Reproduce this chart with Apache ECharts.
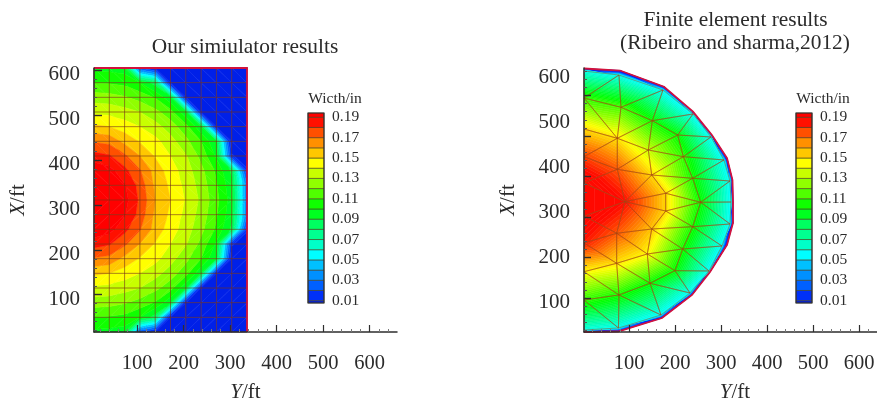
<!DOCTYPE html>
<html><head><meta charset="utf-8">
<style>html,body{margin:0;padding:0;background:#fff}#c{width:877px;height:403px;filter:blur(0.4px)}</style>
<script src="https://cdn.jsdelivr.net/npm/echarts@6/dist/echarts.min.js"></script>
</head><body><div id="c"></div>
<script>
// ---------- data ----------
const majorTicks = [100,200,300,400,500,600];
const minorTicks = [20,40,60,80,120,140,160,180,220,240,260,280,320,340,360,380,420,440,460,480,520,540,560,580,620,640,660];
const legendTicks = [0.01,0.03,0.05,0.07,0.09,0.11,0.13,0.15,0.17,0.19];
const legendLevels = [0.0077,0.01,0.02,0.03,0.04,0.05,0.06,0.07,0.08,0.09,0.10,0.11,0.12,0.13,0.14,0.15,0.16,0.17,0.18,0.19,0.1942];
const bandColors = ['#0020e8','#0030f8','#0060ff','#0090ff','#00c0ff','#00ffff','#00ffc8','#00ff90','#00ff60','#00ff20','#10ff00','#50ff00','#90ff00','#c8ff00','#ffff00','#ffc800','#ff9000','#ff5000','#ff1000','#ff0000'];
// simulator grid: node positions (ft) and crack width (in)
const simY = [7.5,40.4,73.3,106.2,139.1,172,204.9,237.8,270.7,303.6,336.5];
const simX = [604,571.4,538.8,506.2,473.6,441,408.4,375.8,343.2,310.6,278,245.4,212.8,180.2,147.6,115,82.4,49.8,17.2];
const simRow0  = [.098,.097,.095,.020,.005,0,0,0,0,0,0];
const simRow1  = [.110,.109,.107,.100,.085,.003,0,0,0,0,0];
const simRow2  = [.125,.124,.121,.116,.109,.092,.004,0,0,0,0];
const simRow3  = [.138,.137,.134,.130,.123,.114,.092,.004,0,0,0];
const simRow4  = [.152,.150,.145,.140,.134,.125,.114,.092,.004,0,0];
const simRow5  = [.169,.167,.157,.149,.143,.134,.123,.110,.090,0,0];
const simRow6  = [.184,.181,.172,.160,.149,.140,.131,.117,.098,.012,0];
const simRow7  = [.198,.194,.183,.171,.156,.145,.135,.123,.108,.088,.012];
const simRow8  = [.212,.205,.191,.176,.158,.148,.137,.126,.111,.093,.03];
const simRow9  = [.230,.210,.194,.178,.160,.150,.139,.128,.113,.095,.03];
const simRow10 = [.212,.205,.191,.176,.158,.148,.137,.126,.111,.093,.03];
const simRow11 = [.198,.194,.183,.171,.156,.145,.135,.123,.108,.088,.012];
const simRow12 = [.184,.181,.172,.160,.149,.140,.131,.117,.098,.012,0];
const simRow13 = [.169,.167,.157,.149,.143,.134,.123,.110,.090,0,0];
const simRow14 = [.152,.150,.145,.140,.134,.125,.114,.092,.004,0,0];
const simRow15 = [.138,.137,.134,.130,.123,.114,.092,.004,0,0,0];
const simRow16 = [.125,.124,.121,.116,.109,.092,.004,0,0,0,0];
const simRow17 = [.110,.109,.107,.100,.085,.003,0,0,0,0,0];
const simRow18 = [.098,.097,.095,.020,.005,0,0,0,0,0,0];
const simRows = [simRow0,simRow1,simRow2,simRow3,simRow4,simRow5,simRow6,simRow7,simRow8,simRow9,simRow10,simRow11,simRow12,simRow13,simRow14,simRow15,simRow16,simRow17,simRow18];
const simOutlineY = [7.5,336.5,336.5];
const simOutlineX = [604,604,17.2];
// finite element mesh
const feIds = ['A0','A1','A2','A3','A4','A5','A6','A7','A8','A9','A10','A11','A12','A13','A14','B1','B2','B3','B4','B5','B6','B7','B8','B9','B10','B11','C1','C2','C3','C4','C5','C6','C7','C8','D1','D2','D3','E1','E2','E3','E4','E5','E6','E7','E8'];
const feY = [2,78,173.7,239,278,306.3,319.4,321.6,319.4,302,273.7,232.4,169.4,77,2,82.4,150.5,205.7,217.9,238.3,255.7,238.3,216.6,199.8,145.5,78,74.4,141.8,149.2,179.6,179.6,149.2,139.6,73,74.4,91,73,2,2,2,2,2,2,2,2];
const feX = [613.3,604.4,571.1,517.8,466.7,415.6,368.9,322.2,273.3,224.4,168.9,120,71.1,42.2,37.8,532.7,502.9,471.1,422.9,374.9,321.6,267.3,217.8,169.6,141.6,115.6,463.8,437.8,382.2,341.6,302.2,262.2,206.7,186,394.9,322.9,252.7,553.3,484.4,422.9,364.4,291.1,231.1,167.3,104.4];
const feW = [.055,.052,.05,.05,.05,.05,.05,.05,.05,.05,.05,.05,.05,.052,.055,.112,.102,.10,.108,.103,.10,.103,.103,.10,.10,.103,.15,.135,.152,.152,.152,.156,.146,.15,.176,.19,.176,.108,.152,.18,.20,.20,.187,.146,.108];
const feTriangles = ['A0 A1 E1','A1 B1 E1','E1 B1 C1','E1 C1 E2','E2 C1 E3','C1 D1 E3','E3 D1 E4','E4 D1 D2','E4 D2 E5','E5 D2 D3','E5 D3 E6','E6 D3 C8','E6 C8 E7','E7 C8 B11','E7 B11 E8','E8 B11 A13','E8 A13 A14','A1 A2 B1','B1 A2 B2','A2 A3 B2','B2 A3 B3','A3 A4 B3','B3 A4 B4','A4 A5 B4','B4 A5 B5','A5 A6 B5','B5 A6 B6','A6 A7 B6','A7 A8 B6','B6 A8 B7','A8 A9 B7','B7 A9 B8','A9 A10 B8','B8 A10 B9','A10 A11 B9','B9 A11 B10','A11 A12 B10','B10 A12 B11','B11 A12 A13','B1 B2 C1','C1 B2 C2','B2 B3 C2','C2 B3 B4','C2 B4 C3','C3 B4 B5','C3 B5 C4','C4 B5 B6','C4 B6 C5','C5 B6 B7','C5 B7 C6','C6 B7 B8','C6 B8 C7','C7 B8 B9','C7 B9 B10','C7 B10 C8','C8 B10 B11','C1 C2 D1','D1 C2 C3','D1 C3 D2','D2 C3 C4','D2 C4 C5','D2 C5 C6','D2 C6 D3','D3 C6 C7','D3 C7 C8'];
const feEdgeY = [2,80.3,175.9,239,280,312.9,324.8,325.9,325.9,312.9,275.9,236.8,171.6,76,2];
const feEdgeX = [618.9,614.4,578.4,522.9,471.1,420,371.1,322.2,275.6,226.7,166.7,115.6,64.4,34.4,33.3];
const feEdgeW = [0,0,0,0,0,0,0,0,0,0,0,0,0,0,0];
const feRing = ['A0','A1','A2','A3','A4','A5','A6','A7','A8','A9','A10','A11','A12','A13','A14'];
const titleLeft = 'Our simiulator results';
const titleRight1 = 'Finite element results';
const titleRight2 = '(Ribeiro and sharma,2012)';
const legendTitle = 'Wicth/in';

// ---------- drawing helpers ----------
const SERIF = '"Liberation Serif","Times New Roman",serif';
const TICK = '#2e2e2e', MESH = 'rgba(120,50,20,0.62)', MESH_FE = 'rgba(165,70,20,0.6)', EDGE = '#d2123c';
const simLevels = legendLevels.slice(1, -1);
function clip(poly, level, keepAbove){
  const out = [];
  for (let i = 0; i < poly.length; i++){
    const a = poly[i], b = poly[(i+1)%poly.length];
    const ina = keepAbove ? a[2] >= level : a[2] <= level;
    const inb = keepAbove ? b[2] >= level : b[2] <= level;
    if (ina) out.push(a);
    if (ina !== inb){
      const t = (level-a[2])/(b[2]-a[2]);
      out.push([a[0]+t*(b[0]-a[0]), a[1]+t*(b[1]-a[1]), level]);
    }
  }
  return out;
}
function bandShapes(tri, levels, colorOf){
  const kids = [];
  for (let i = 0; i <= levels.length; i++){
    let p = tri;
    if (i > 0) p = clip(p, levels[i-1], true);
    if (p.length && i < levels.length) p = clip(p, levels[i], false);
    if (p.length >= 3){
      const col = colorOf(i);
      kids.push({type:'polygon', shape:{points:p.map(q=>[q[0],q[1]])}, style:{fill:col, stroke:col, lineWidth:0.5}, silent:true});
    }
  }
  return kids;
}
const anchors = [[0.0,[0,20,225]],[0.02,[0,40,255]],[0.05,[0,255,255]],[0.10,[0,255,0]],[0.145,[255,255,0]],[0.19,[255,10,0]],[0.3,[255,0,0]]];
function rainbow(v){
  for (let i = 1; i < anchors.length; i++){
    if (v <= anchors[i][0]){
      const t = (v-anchors[i-1][0])/(anchors[i][0]-anchors[i-1][0]);
      const c = anchors[i-1][1].map((x,k)=>Math.round(x+t*(anchors[i][1][k]-x)));
      return 'rgb('+c.join(',')+')';
    }
  }
  return 'rgb(255,0,0)';
}
const fineLevels = [];
for (let l = 0.0025; l < 0.24; l += 0.0025) fineLevels.push(l);
const fineColor = i => rainbow(i * 0.0025 + 0.00125);
const simColor = i => bandColors[i];

function simTriangles(){
  const out = [];
  for (let r = 0; r < simX.length-1; r++) for (let c = 0; c < simY.length-1; c++){
    const n = [[c,r],[c+1,r],[c+1,r+1],[c,r+1]].map(p=>p[0]+p[1]*100);
    if (r < 9) out.push([n[0],n[1],n[2]],[n[0],n[2],n[3]]);
    else out.push([n[0],n[1],n[3]],[n[1],n[2],n[3]]);
  }
  return out;
}
function simNode(api, id){
  const c = id%100, r = Math.floor(id/100);
  const p = api.coord([simY[c], simX[r]]);
  return [p[0],p[1],simRows[r][c]];
}
const feIndex = id => feIds.indexOf(id);
function feNode(api, id){
  const i = feIndex(id);
  const p = api.coord([feY[i], feX[i]]);
  return [p[0],p[1],feW[i]];
}
function edgeNode(api, i){
  const p = api.coord([feEdgeY[i], feEdgeX[i]]);
  return [p[0],p[1],feEdgeW[i]];
}

// ---------- axes ----------
function grid(left, top, width, height){ return {left, top, width, height, outerBoundsMode:'none'}; }
function labelFont(size){ return {fontFamily:SERIF, fontSize:size, color:'#2b2b2b'}; }
function xAxisPair(gridIndex, min, max, name, gap, namePad){
  return [
    {type:'value', gridIndex, min, max, position:'bottom', z:6, splitLine:{show:false}, name, nameLocation:'middle', nameGap:gap,
     nameTextStyle:{fontFamily:SERIF, fontSize:21, color:'#2b2b2b', padding:namePad, rich:{i:{fontFamily:SERIF, fontSize:21, fontStyle:'italic', color:'#2b2b2b'}}},
     axisLine:{onZero:false, lineStyle:{color:TICK, width:1.5}},
     axisTick:{inside:true, length:7, customValues:majorTicks, lineStyle:{color:TICK, width:1.2}},
     axisLabel:Object.assign({customValues:majorTicks, margin:21, formatter:v=>String(v)}, labelFont(20.5))},
    {type:'value', gridIndex, min, max, position:'bottom', z:6, splitLine:{show:false},
     axisLine:{show:false,onZero:false}, axisLabel:{show:false},
     axisTick:{inside:true, length:3, customValues:minorTicks, lineStyle:{color:'#777', width:1}}}
  ];
}
function yAxisLabel(gridIndex, min, max, name, gap){
  return {type:'value', gridIndex, min, max, position:'left', z:6, splitLine:{show:false}, name, nameLocation:'middle', nameGap:gap, nameRotate:90,
     nameTextStyle:{fontFamily:SERIF, fontSize:21, color:'#2b2b2b', rich:{i:{fontFamily:SERIF, fontSize:21, fontStyle:'italic', color:'#2b2b2b'}}},
     axisLine:{onZero:false, lineStyle:{color:TICK, width:1.5}},
     axisTick:{show:false},
     axisLabel:Object.assign({customValues:majorTicks, margin:14, formatter:v=>String(v)}, labelFont(21))};
}
function yAxisTicks(gridIndex, min, max, values, len, col){
  return {type:'value', gridIndex, min, max, position:'left', z:6, splitLine:{show:false},
     axisLine:{show:false,onZero:false}, axisLabel:{show:false},
     axisTick:{inside:true, length:len, customValues:values, lineStyle:{color:col, width:len>5?1.4:1}}};
}
function legendAxes(gridIndex){
  return {
    x:{type:'value', gridIndex, min:0, max:1, show:false},
    y:{type:'value', gridIndex, min:0.0077, max:0.1942, position:'right', splitLine:{show:false},
       axisLine:{show:false,onZero:false}, axisTick:{show:false},
       axisLabel:Object.assign({customValues:legendTicks, margin:8, formatter:v=>v.toFixed(2)}, labelFont(15.5))}
  };
}
const legL = legendAxes(2), legR = legendAxes(3);

// ---------- series ----------
function legendSeries(xi, yi){
  return {type:'custom', xAxisIndex:xi, yAxisIndex:yi, z:3, silent:true,
    data:bandColors.map((c,i)=>[legendLevels[i], legendLevels[i+1], i]),
    renderItem:(p,api)=>{
      const a = api.coord([0, api.value(0)]), b = api.coord([1, api.value(1)]);
      return {type:'rect', shape:{x:a[0], y:b[1], width:b[0]-a[0], height:a[1]-b[1]},
              style:{fill:bandColors[api.value(2)], stroke:'rgba(70,60,30,0.75)', lineWidth:0.8}};
    }};
}
function legendFrame(xi, yi){
  return {type:'custom', xAxisIndex:xi, yAxisIndex:yi, z:4, silent:true, data:[[0,0.0077,1,0.1942]],
    renderItem:(p,api)=>{
      const a = api.coord([api.value(0), api.value(1)]), b = api.coord([api.value(2), api.value(3)]);
      return {type:'rect', shape:{x:a[0], y:b[1], width:b[0]-a[0], height:a[1]-b[1]},
              style:{fill:'none', stroke:'#333', lineWidth:1.2}};
    }};
}
const tris = simTriangles();
const RX = 2, RY = 3; // right panel axis indexes
const series = [
  {type:'custom', xAxisIndex:0, yAxisIndex:1, z:2, silent:true, data:tris,
   renderItem:(p,api)=>{
     const t = [api.value(0),api.value(1),api.value(2)].map(id=>simNode(api,id));
     return {type:'group', children:bandShapes(t, simLevels, simColor)};
   }},
  {type:'custom', xAxisIndex:0, yAxisIndex:1, z:3, silent:true,
   data:simY.map(v=>[v,0]).concat(simX.map(v=>[v,1])),
   renderItem:(p,api)=>{
     const v = api.value(0);
     const vert = api.value(1)===0;
     const a = vert ? api.coord([v, 604]) : api.coord([7.5, v]);
     const b = vert ? api.coord([v, 17.2]) : api.coord([336.5, v]);
     return {type:'line', shape:{x1:a[0],y1:a[1],x2:b[0],y2:b[1]}, style:{stroke:MESH, lineWidth:1}};
   }},
  {type:'custom', xAxisIndex:0, yAxisIndex:1, z:4, silent:true, data:[[0]],
   renderItem:(p,api)=>({type:'polyline', shape:{points:simOutlineY.map((y,i)=>api.coord([y,simOutlineX[i]]))}, style:{fill:'none', stroke:EDGE, lineWidth:1.8}})},
  // finite element outer blue strip
  {type:'custom', xAxisIndex:RX, yAxisIndex:RY, z:2, silent:true, data:feRing.slice(0,-1).map((id,i)=>[i]),
   renderItem:(p,api)=>{
     const i = api.value(0);
     const a = feNode(api,feRing[i]), b = feNode(api,feRing[i+1]), c = edgeNode(api,i), d = edgeNode(api,i+1);
     return {type:'group', children:bandShapes([a,b,c], fineLevels, fineColor).concat(bandShapes([b,c,d], fineLevels, fineColor))};
   }},
  // finite element mesh fill
  {type:'custom', xAxisIndex:RX, yAxisIndex:RY, z:2, silent:true, data:feTriangles.map((t,i)=>[i]),
   renderItem:(p,api)=>{
     const t = feTriangles[api.value(0)].split(' ').map(id=>feNode(api,id));
     return {type:'group', children:bandShapes(t, fineLevels, fineColor)};
   }},
  {type:'custom', xAxisIndex:RX, yAxisIndex:RY, z:3, silent:true, data:feTriangles.map((t,i)=>[i]),
   renderItem:(p,api)=>{
     const t = feTriangles[api.value(0)].split(' ').map(id=>feNode(api,id));
     return {type:'polygon', shape:{points:t.map(q=>[q[0],q[1]])}, style:{fill:'none', stroke:MESH_FE, lineWidth:0.8}};
   }},
  {type:'custom', xAxisIndex:RX, yAxisIndex:RY, z:4, silent:true, data:[[0]],
   renderItem:(p,api)=>({type:'polyline', shape:{points:feEdgeY.map((y,i)=>api.coord([y,feEdgeX[i]]))}, style:{fill:'none', stroke:EDGE, lineWidth:1.8}})},
  legendSeries(4,6), legendFrame(4,6),
  legendSeries(5,7), legendFrame(5,7)
];

function titleText(text, x, y, size){
  return {text, left:x, top:y, textAlign:'center', textVerticalAlign:'middle', padding:0,
          textStyle:{fontFamily:SERIF, fontSize:size, fontWeight:'normal', color:'#2b2b2b'}};
}
const chart = echarts.init(document.getElementById('c'), null, {renderer:'canvas'});
chart.setOption({
  animation:false,
  backgroundColor:'#fff',
  title:[titleText(titleLeft,245,47,21.4), titleText(titleRight1,735.5,20,21.4), titleText(titleRight2,735,43,21.4),
         titleText(legendTitle,335,99,15.5), titleText(legendTitle,823,99,15.5)],
  grid:[grid(94,68,303,264), grid(584,68,293,264), grid(308,113,16,190), grid(796,113,16,190)],
  xAxis:[...xAxisPair(0,7.5,659,'{i|Y}/ft',50,0), ...xAxisPair(1,2,639,'{i|Y}/ft',50,[0,0,0,9]), legL.x, legR.x],
  yAxis:[
    // left panel: the printed numbers sit a little below their tick marks in the source
    yAxisLabel(0,27.2,614,'{i|X}/ft',65),
    yAxisTicks(0,17.2,604,majorTicks,8,TICK),
    yAxisTicks(0,17.2,604,minorTicks,3,'#555'),
    // right panel: tick marks in the source are on a slightly different spacing from the labels
    yAxisLabel(1,33.3,620,'{i|X}/ft',65),
    yAxisTicks(1,16,668,majorTicks,7,TICK),
    yAxisTicks(1,16,668,minorTicks,3,'#555'),
    legL.y, legR.y
  ],
  series
});
</script></body></html>
